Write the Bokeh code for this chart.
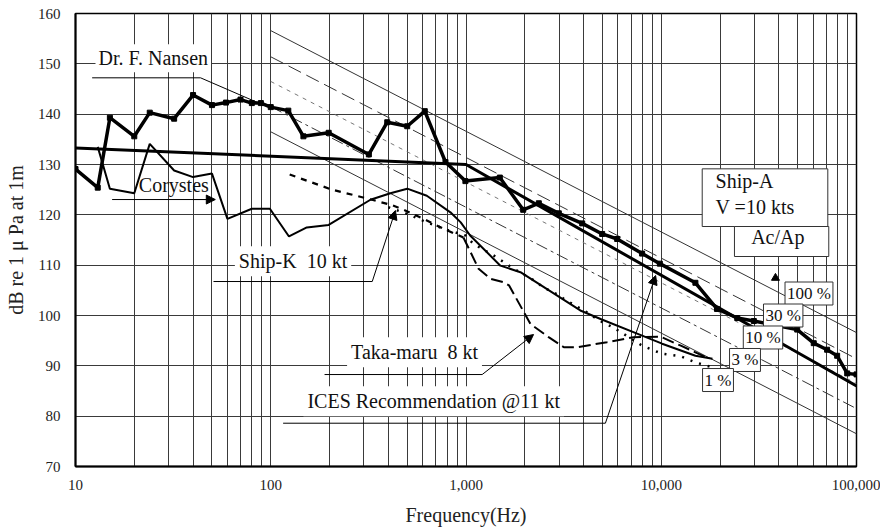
from bokeh.plotting import figure
from bokeh.models import (FixedTicker, NumeralTickFormatter, Label, Arrow, NormalHead,
                          BoxAnnotation, Range1d)
from bokeh.embed import file_html
from bokeh.resources import INLINE

FONT = "Liberation Serif"
NB = "\u00a0"

# ---------------- data ----------------
x_ticks = [10, 100, 1000, 10000, 100000]
y_ticks = [70, 80, 90, 100, 110, 120, 130, 140, 150, 160]

ices_f = [10, 1000, 100000]
ices_db = [133.3, 130.0, 86.0]

nansen_f = [10, 13, 15, 20, 24, 32, 40, 50, 59, 70, 80, 89, 100, 123, 147, 198, 318, 395,
            500, 615, 785, 993, 1490, 1963, 2360, 2987, 3937, 4984, 5946, 7980, 9836,
            14960, 19300, 24500, 29800, 49700, 60400, 70700, 79600, 89600, 100000]
nansen_db = [129.1, 125.4, 139.3, 135.6, 140.3, 139.1, 143.8, 141.8, 142.3, 142.9, 142.2,
             142.2, 141.4, 140.7, 135.6, 136.3, 132.0, 138.4, 137.6, 140.6, 130.5, 126.7,
             127.4, 121.0, 122.3, 120.3, 118.3, 116.2, 115.2, 112.3, 110.3, 106.5, 101.3,
             99.5, 98.9, 97.2, 94.5, 93.2, 92.0, 88.5, 88.3]

corystes_f = [13, 15, 20, 24, 32, 40, 50, 60, 80, 99, 124, 153, 198, 324, 410, 500, 630,
              832, 940, 1050, 1500, 1900, 3850, 4890, 7980, 10100, 14960, 18300]
corystes_db = [133.5, 125.2, 124.3, 134.1, 128.8, 127.5, 128.2, 119.2, 121.2, 121.2, 115.7,
               117.5, 118.0, 123.0, 124.3, 125.2, 123.8, 120.5, 118.5, 115.9, 109.9, 108.6,
               101.0, 99.3, 96.0, 94.4, 92.0, 91.4]

taka_f = [125, 206, 330, 419, 480, 606, 769, 970, 1160, 1335, 1560, 1660, 2140, 2650,
          3170, 3710, 5275, 7200, 9900, 12600, 17200]
taka_db = [128.0, 125.0, 123.0, 121.9, 121.0, 119.2, 117.2, 115.5, 109.3, 107.3, 106.6,
           106.0, 98.3, 95.7, 93.7, 93.7, 94.7, 95.7, 95.8, 94.0, 91.6]

shipk_f = [400, 500, 630, 800, 993, 1094, 1389, 1560, 1752, 2225, 2510, 2820, 3170, 3580,
           4020, 4520, 4980, 5620, 6320, 7980, 10100, 12560, 14960, 19000]
shipk_db = [121.5, 120.2, 118.5, 117.0, 115.9, 114.2, 111.9, 110.6, 109.3, 107.0, 105.5,
            104.6, 103.3, 102.1, 101.0, 99.7, 98.7, 97.7, 96.5, 94.0, 92.4, 91.9, 90.7, 89.5]

# Ac/Ap reference lines (100 Hz -> 100 kHz)
acap_f = [100, 100000]
acap_100 = [156.6, 96.6]
acap_30 = [151.4, 91.4]
acap_10 = [146.5, 86.5]
acap_3 = [141.5, 81.5]
acap_1 = [136.5, 76.5]
acap_names = ["100 %", "30 %", "10 %", "3 %", "1 %"]

# ---------------- figure ----------------
p = figure(width=880, height=529, x_axis_type="log",
           x_range=Range1d(10, 100000), y_range=Range1d(70, 160),
           output_backend="svg", toolbar_location=None,
           min_border_left=75, min_border_right=24, min_border_top=13, min_border_bottom=63)
p.background_fill_color = "white"
p.border_fill_color = "white"
p.outline_line_color = "black"
p.outline_line_width = 1.5

grid_x = [m * 10 ** k for k in range(1, 5) for m in range(1, 10)] + [100000]
p.xgrid.ticker = FixedTicker(ticks=grid_x)
p.ygrid.ticker = FixedTicker(ticks=y_ticks)
for g in (p.xgrid, p.ygrid):
    g.grid_line_color = "#3a3a3a"
    g.grid_line_alpha = 1.0
    g.grid_line_width = 1

p.xaxis.ticker = FixedTicker(ticks=x_ticks)
p.xaxis.formatter = NumeralTickFormatter(format="0,0")
p.yaxis.ticker = FixedTicker(ticks=y_ticks)
for ax in (p.xaxis, p.yaxis):
    ax.major_tick_out = 0
    ax.major_tick_in = 0
    ax.minor_tick_out = 0
    ax.minor_tick_in = 0
    ax.axis_line_color = "black"
    ax.axis_line_width = 2
    ax.major_label_text_font = FONT
    ax.major_label_text_font_size = "15px"
    ax.major_label_text_color = "#222"
    ax.axis_label_text_font = FONT
    ax.axis_label_text_font_size = "20px"
    ax.axis_label_text_font_style = "normal"
    ax.axis_label_text_color = "#222"
p.xaxis.axis_label = "Frequency(Hz)"
p.yaxis.axis_label = "dB re 1" + NB + "\u03bc" + NB + "Pa at 1m"
p.xaxis.major_label_standoff = 13
p.xaxis.axis_label_standoff = 11
p.yaxis.major_label_standoff = 15
p.yaxis.axis_label_standoff = 8

# Ac/Ap lines
p.line(acap_f, acap_100, line_color="#333", line_width=1)
p.line(acap_f, acap_30, line_color="#333", line_width=1, line_dash="14 6")
p.line(acap_f, acap_10, line_color="#777", line_width=1, line_dash="4 5")
p.line(acap_f, acap_3, line_color="#333", line_width=1, line_dash="12 4 3 4")
p.line(acap_f, acap_1, line_color="#333", line_width=1)

# data series
p.line(corystes_f, corystes_db, line_color="black", line_width=2)
p.line(taka_f[:8], taka_db[:8], line_color="black", line_width=2.2, line_dash="6 6")
p.line(taka_f[7:], taka_db[7:], line_color="black", line_width=2, line_dash="12 5")
p.line(shipk_f, shipk_db, line_color="black", line_width=2.5, line_dash="2 7")
p.line(ices_f, ices_db, line_color="black", line_width=3)
p.line(nansen_f, nansen_db, line_color="black", line_width=3.5)
p.scatter(nansen_f, nansen_db, marker="square", size=5, color="black")

# ---------------- annotations ----------------
def lab(x, y, text, size="20px", **kw):
    l = Label(x=x, y=y, text=text, text_font=FONT, text_font_size=size,
              text_color="#111", **kw)
    p.add_layout(l)
    return l

# leader lines
p.line([12.17, 43.7, 88.6], [147.22, 147.22, 142.06], line_color="black", line_width=1)
p.line([15.4, 50.9], [123.04, 123.04], line_color="black", line_width=1)
p.line([50.9, 331], [106.75, 106.75], line_color="black", line_width=1)
p.line([188.6, 1210], [88.27, 88.27], line_color="black", line_width=1)
p.line([115.7, 5175], [78.6, 78.6], line_color="black", line_width=1)

def arrow(x0, y0, x1, y1):
    p.add_layout(Arrow(end=NormalHead(size=9, fill_color="black", line_color="black"),
                       x_start=x0, y_start=y0, x_end=x1, y_end=y1,
                       line_color="black", line_width=1))

arrow(40.0, 123.04, 52.0, 123.04)
arrow(331, 106.75, 435, 120.86)
arrow(1210, 88.27, 2218, 96.22)
arrow(5175, 78.6, 9360, 107.94)

lab(12.66, 148.34, "Dr. F. Nansen", background_fill_color="white", padding=3)
lab(21.1, 123.84, "Corystes")
lab(65.5, 107.8, "Ship-K" + NB + NB + "10 kt", background_fill_color="white", padding=4)
lab(246, 89.72, "Taka-maru" + NB + NB + "8 kt", background_fill_color="white", padding=4)
lab(147, 80.0, "ICES Recommendation @11 kt", background_fill_color="white", padding=4)

p.add_layout(BoxAnnotation(left=16210, right=71290, top=129.14, bottom=117.68,
                           fill_color="white", fill_alpha=1, line_color="#333",
                           line_width=1, line_alpha=1))
p.add_layout(BoxAnnotation(left=23710, right=72110, top=117.68, bottom=111.72,
                           fill_color="white", fill_alpha=1, line_color="#333",
                           line_width=1, line_alpha=1))
lab(18970, 124.5, "Ship-A")
lab(18970, 119.4, "V =10 kts")
lab(28880, 113.45, "Ac/Ap")

p.scatter([38460], [107.45], marker="triangle", size=8, color="black")

pct_x = [57100, 42130, 33200, 26850, 19530]
pct_y = [104.37, 100.0, 95.63, 91.16, 87.18]
for xx, yy, t in zip(pct_x, pct_y, acap_names):
    lab(xx, yy, t, size="17px", text_align="center", text_baseline="middle",
        background_fill_color="white", border_line_color="#333", border_line_width=1,
        padding=2)

open("out.html", "w").write(file_html(p, INLINE))
